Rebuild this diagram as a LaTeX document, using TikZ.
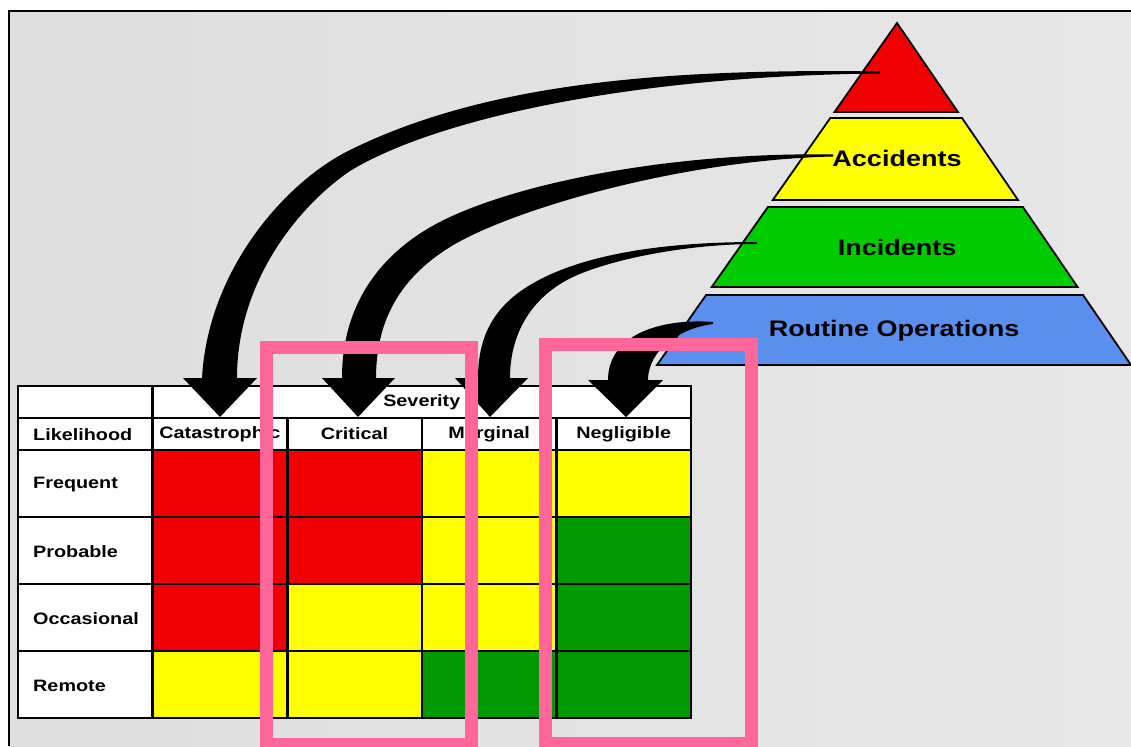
\documentclass[tikz,border=0pt]{standalone}
\usepackage{fontspec}
\newfontfamily\lbl{Liberation Sans}[FakeStretch=1.2]
\definecolor{bgL}{HTML}{DEDEDE}
\definecolor{bgR}{HTML}{E7E7E7}
\definecolor{cr}{HTML}{F00000}
\definecolor{cy}{HTML}{FFFF00}
\definecolor{cg}{HTML}{009900}
\definecolor{pgreen}{HTML}{00CC00}
\definecolor{pblue}{HTML}{5B8FEF}
\definecolor{hilite}{HTML}{FF6699}
\tikzset{
  cell/.style={draw=black, line width=2.6pt, minimum width=134.6pt, minimum height=67pt,
               inner sep=0pt, outer sep=0pt, font=\lbl\bfseries\fontsize{16.5}{18}\selectfont},
  headcell/.style={cell, fill=white, minimum height=32pt},
  rowlbl/.style={anchor=west, inner sep=0pt, font=\lbl\bfseries\fontsize{16.5}{18}\selectfont},
  band/.style={draw=black, line width=1.8pt, line join=miter},
  pyrlbl/.style={inner sep=0pt, font=\lbl\bfseries\fontsize{22.5}{26}\selectfont},
  bigarrow/.style={fill=black},
  hibox/.style={draw=hilite, line width=13pt}
}
\begin{document}
\begin{tikzpicture}[x=1pt, y=-1pt]
\useasboundingbox (0,0) rectangle (1131,746);
\fill[white] (0,0) rectangle (1131,746);
\shade[left color=bgL, right color=bgR] (9,12) rectangle (1131,746);
\draw[line width=2.2pt] (8.6,746) -- (8.6,11) -- (1131,11);

% ---------- risk matrix ----------
\node[headcell] (corner) at (85.3,402) {};
\node[headcell, minimum width=538.4pt] (sev) at (421.8,402) {Severity};
\node[headcell] (lik) at (85.3,434) {};
\node[rowlbl] (liklbl) at (33,435) {Likelihood};
\node[headcell] (h1) at (219.9,434) {\raisebox{-1pt}{Catastrophic}};
\node[headcell] (h2) at (354.5,434) {\raisebox{-1pt}{Critical}};
\node[headcell] (h3) at (489.1,434) {\raisebox{-1pt}{Marginal}};
\node[headcell] (h4) at (623.7,434) {\raisebox{-1pt}{Negligible}};
\foreach \y/\name/\a/\b/\c/\d [count=\i] in {
    483.5/Frequent/cr/cr/cy/cy,
    550.5/Probable/cr/cr/cy/cg,
    617.5/Occasional/cr/cy/cy/cg,
    684.5/Remote/cy/cy/cg/cg} {
  \node[cell, fill=white] (L\i) at (85.3,\y) {};
  \node[rowlbl] (T\i) at (33,\y+1) {\name};
  \node[cell, fill=\a] (C\i-1) at (219.9,\y) {};
  \node[cell, fill=\b] (C\i-2) at (354.5,\y) {};
  \node[cell, fill=\c] (C\i-3) at (489.1,\y) {};
  \node[cell, fill=\d] (C\i-4) at (623.7,\y) {};
}

% ---------- pyramid ----------
\filldraw[band, fill=cr]     (897,23) -- (957.9,112) -- (834.5,112) -- cycle;
\filldraw[band, fill=cy]     (830.3,118) -- (962,118) -- (1018,200) -- (772.8,200) -- cycle;
\filldraw[band, fill=pgreen] (767.9,207) -- (1022.9,207) -- (1077.6,287) -- (711.7,287) -- cycle;
\filldraw[band, fill=pblue]  (706.1,295) -- (1083,295) -- (1131,365) -- (657,365) -- cycle;
\node[pyrlbl] (acc) at (897,158) {Accidents};
\node[pyrlbl] (inc) at (897,247) {Incidents};
\node[pyrlbl] (rout) at (894,331) {Routine Operations};

% ---------- tapered arrows from the pyramid levels to the severity columns ----------
% top level -> Catastrophic
\fill[bigarrow] (880,71.5) .. controls (650,68) and (480,86) .. (350,150)
  .. controls (285,182) and (208,270) .. (202,378)
  -- (183,378) -- (220,417) -- (257,378) -- (237,378)
  .. controls (237,280) and (300,205) .. (350,171)
  .. controls (430,122) and (620,76) .. (880,73.5) -- cycle;
% Accidents -> Critical
\fill[bigarrow] (833,154.5) .. controls (680,152) and (530,180) .. (450,217)
  .. controls (385,247) and (342,300) .. (342,378)
  -- (322,378) -- (358,417) -- (395,378) -- (376,378)
  .. controls (376,315) and (405,275) .. (450,247)
  .. controls (510,210) and (680,160) .. (833,156.5) -- cycle;
% Incidents -> Marginal
\fill[bigarrow] (757,242) .. controls (660,242) and (580,255) .. (530,285)
  .. controls (495,306) and (478,335) .. (478,378)
  -- (455,378) -- (490,417) -- (528,378) -- (510,378)
  .. controls (510,335) and (530,300) .. (567,280)
  .. controls (600,262) and (680,244) .. (757,244) -- cycle;
% Routine Operations -> Negligible
\fill[bigarrow] (713,322) .. controls (660,318) and (608,335) .. (608,380)
  -- (588,380) -- (626,417) -- (663,380) -- (648,380)
  .. controls (648,350) and (680,328) .. (713,324) -- cycle;

% ---------- highlight frames ----------
\draw[hibox] (266.5,347.5) rectangle (471.5,744);
\draw[hibox] (545,344) rectangle (751,743);
\end{tikzpicture}
\end{document}
